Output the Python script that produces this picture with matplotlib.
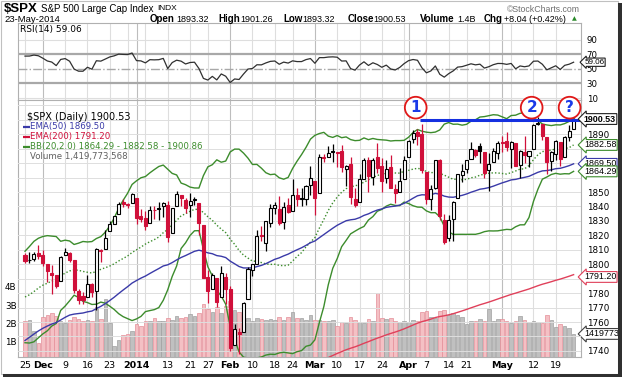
import numpy as np
import matplotlib.pyplot as plt
from matplotlib.patches import Rectangle

# ---- data ----
opens = [1806.33, 1802.87, 1803.48, 1808.01, 1806.55, 1800.10, 1794.15, 1792.82, 1788.36, 1806.21,
         1807.60, 1802.76, 1781.71, 1777.98, 1777.48, 1786.47, 1781.46, 1809.00, 1810.39, 1822.92,
         1828.02, 1834.96, 1842.97, 1841.47, 1842.61, 1845.86, 1833.21, 1832.31, 1828.71, 1837.90,
         1839.00, 1840.06, 1841.26, 1821.36, 1840.52, 1847.99, 1844.23, 1841.05, 1844.71, 1842.29,
         1826.96, 1791.03, 1783.00, 1790.15, 1777.17, 1790.88, 1782.68, 1743.82, 1753.38, 1752.99,
         1776.01, 1796.20, 1800.45, 1820.12, 1814.82, 1828.46, 1839.03, 1838.22, 1829.24, 1841.07,
         1836.78, 1847.66, 1845.79, 1844.90, 1855.12, 1857.68, 1849.23, 1874.05, 1874.18, 1878.52,
         1877.86, 1878.26, 1866.15, 1869.06, 1845.07, 1842.81, 1858.92, 1872.25, 1860.09, 1874.53,
         1867.67, 1859.48, 1867.09, 1852.11, 1850.07, 1859.16, 1873.96, 1886.61, 1891.43, 1890.25,
         1863.92, 1845.48, 1852.64, 1872.28, 1830.65, 1818.18, 1831.45, 1846.01, 1861.73, 1865.79,
         1872.57, 1879.32, 1881.97, 1877.72, 1865.00, 1870.78, 1877.10, 1884.39, 1885.30, 1879.45,
         1883.69, 1868.53, 1877.39, 1875.27, 1880.03, 1896.75, 1897.13, 1888.16, 1871.19, 1876.66,
         1884.88, 1874.05, 1888.19, 1893.32]
highs = [1808.10, 1808.42, 1808.27, 1813.55, 1810.02, 1800.10, 1799.80, 1792.82, 1806.04, 1811.52,
         1808.52, 1802.97, 1782.99, 1780.92, 1792.22, 1786.77, 1811.08, 1810.88, 1823.75, 1829.75,
         1833.32, 1842.84, 1844.89, 1842.47, 1849.44, 1845.86, 1838.24, 1837.16, 1840.10, 1840.02,
         1843.23, 1843.15, 1843.45, 1839.26, 1850.84, 1847.99, 1846.04, 1849.31, 1846.87, 1842.29,
         1826.96, 1795.98, 1793.87, 1790.15, 1798.77, 1793.88, 1784.83, 1758.73, 1755.79, 1774.06,
         1798.03, 1799.94, 1823.54, 1826.55, 1830.25, 1841.65, 1842.87, 1847.50, 1842.79, 1846.13,
         1858.71, 1852.91, 1852.65, 1854.53, 1867.92, 1857.68, 1876.23, 1876.53, 1881.94, 1883.57,
         1877.87, 1882.35, 1868.38, 1874.40, 1852.44, 1862.30, 1873.76, 1874.14, 1873.49, 1883.97,
         1873.34, 1871.87, 1875.92, 1855.55, 1866.63, 1875.18, 1885.84, 1893.17, 1893.80, 1897.28,
         1864.04, 1854.95, 1872.43, 1872.53, 1835.07, 1834.19, 1844.02, 1862.31, 1869.63, 1871.89,
         1884.89, 1879.75, 1884.06, 1877.72, 1877.01, 1880.60, 1885.20, 1888.59, 1891.33, 1885.51,
         1883.69, 1878.83, 1889.07, 1878.57, 1897.13, 1902.17, 1897.13, 1888.16, 1878.28, 1886.00,
         1884.88, 1888.80, 1896.33, 1901.26]
lows = [1800.58, 1800.77, 1802.59, 1803.98, 1798.60, 1787.85, 1779.09, 1783.38, 1788.36, 1806.21,
        1801.75, 1780.09, 1772.28, 1772.45, 1777.48, 1777.05, 1767.99, 1801.35, 1810.25, 1822.92,
        1828.02, 1834.96, 1839.81, 1838.77, 1842.41, 1827.74, 1829.13, 1823.73, 1828.71, 1831.40,
        1830.38, 1832.43, 1815.52, 1821.36, 1840.52, 1840.30, 1835.23, 1832.38, 1840.88, 1820.06,
        1790.29, 1772.88, 1783.00, 1770.45, 1777.17, 1772.26, 1739.66, 1743.82, 1737.92, 1752.99,
        1776.01, 1791.83, 1800.41, 1815.97, 1809.22, 1825.59, 1835.01, 1826.99, 1824.58, 1835.60,
        1836.78, 1840.19, 1840.66, 1841.13, 1847.67, 1834.44, 1849.23, 1871.11, 1874.18, 1870.56,
        1867.04, 1863.88, 1854.38, 1841.86, 1839.57, 1842.81, 1858.92, 1850.35, 1854.63, 1863.46,
        1849.69, 1855.96, 1852.56, 1842.11, 1850.07, 1859.16, 1873.96, 1883.79, 1882.65, 1863.26,
        1841.48, 1837.49, 1852.38, 1830.87, 1814.36, 1815.80, 1816.29, 1846.01, 1856.72, 1863.18,
        1872.57, 1873.91, 1870.24, 1859.70, 1850.61, 1870.78, 1872.69, 1878.04, 1878.50, 1866.77,
        1867.72, 1859.79, 1870.05, 1867.02, 1880.03, 1896.06, 1885.77, 1862.36, 1864.82, 1872.42,
        1868.14, 1874.05, 1885.39, 1893.32]
closes = [1802.48, 1802.75, 1807.23, 1805.81, 1800.90, 1795.15, 1792.81, 1785.03, 1805.09, 1808.37,
          1802.62, 1782.22, 1775.50, 1775.32, 1786.54, 1781.00, 1810.65, 1809.60, 1818.32, 1827.99,
          1833.32, 1842.02, 1841.40, 1841.07, 1848.36, 1831.98, 1831.37, 1826.77, 1837.88, 1837.49,
          1838.13, 1842.37, 1819.20, 1838.88, 1848.38, 1845.89, 1838.70, 1843.80, 1844.86, 1828.46,
          1790.29, 1781.56, 1792.50, 1774.20, 1794.19, 1782.59, 1741.89, 1755.20, 1751.64, 1773.43,
          1797.02, 1799.84, 1819.75, 1819.26, 1829.83, 1838.63, 1840.76, 1828.75, 1839.78, 1836.25,
          1847.61, 1845.12, 1845.16, 1854.29, 1859.45, 1845.73, 1873.91, 1873.81, 1877.03, 1878.04,
          1877.17, 1867.63, 1868.20, 1846.34, 1841.13, 1858.83, 1872.25, 1860.77, 1872.01, 1866.52,
          1857.44, 1865.62, 1852.56, 1849.04, 1857.62, 1872.34, 1885.52, 1890.90, 1888.77, 1865.09,
          1845.04, 1851.96, 1872.18, 1833.08, 1815.69, 1830.61, 1842.98, 1862.31, 1864.85, 1871.89,
          1879.55, 1875.39, 1878.61, 1863.40, 1869.43, 1878.33, 1883.95, 1883.68, 1881.14, 1884.66,
          1867.72, 1878.21, 1875.63, 1878.48, 1896.65, 1897.45, 1888.53, 1870.85, 1877.86, 1885.08,
          1872.83, 1888.03, 1892.49, 1900.53]
# volume in billions
volume = [2.10, 2.20, 1.60, 0.95, 2.35, 2.45, 2.55, 2.40, 2.10, 2.00,
          2.20, 2.35, 2.25, 2.15, 2.20, 2.10, 2.90, 2.25, 3.35, 2.00,
          0.75, 1.10, 1.35, 1.40, 1.60, 1.95, 1.85, 2.10, 2.15, 2.30,
          2.15, 2.10, 2.30, 2.20, 2.40, 2.30, 2.35, 2.50, 2.40, 2.55,
          3.05, 2.80, 2.60, 2.90, 2.55, 2.95, 3.20, 2.75, 2.60, 2.40,
          2.30, 2.15, 2.30, 2.25, 2.20, 2.25, 2.20, 2.35, 2.20, 2.35,
          2.60, 2.30, 2.30, 2.20, 2.45, 2.20, 2.20, 2.15, 2.10, 2.20,
          1.85, 2.05, 2.00, 2.35, 2.20, 2.05, 2.00, 2.25, 2.10, 3.65,
          2.30, 2.25, 2.30, 2.10, 2.05, 2.10, 2.05, 2.20, 2.15, 2.60,
          2.65, 2.35, 2.30, 2.70, 2.75, 2.45, 2.55, 2.45, 2.35, 1.95,
          2.10, 2.10, 2.25, 2.10, 2.80, 2.15, 2.25, 2.25, 2.10, 2.00,
          2.15, 2.40, 2.20, 2.05, 2.10, 2.05, 2.00, 2.45, 2.20, 1.80,
          1.95, 1.85, 1.75, 1.42]
# closes before the visible window (needed by BB(20) and RSI(14) at the left edge)
pre_close = [1710.14, 1698.06, 1721.54, 1733.15, 1744.50, 1744.66, 1754.67, 1746.38, 1752.07, 1759.77,
             1762.11, 1771.95, 1763.31, 1756.54, 1761.64, 1767.93, 1762.97, 1770.49, 1747.15, 1770.61,
             1771.89, 1767.69, 1782.00, 1790.62, 1798.18, 1791.53, 1787.87, 1781.37, 1795.85, 1804.76]
ema50_start = 1745.0
ema200_start = 1651.0
rsi_last = 59.06

tick_pos = [0, 4, 9, 14, 19, 25, 32, 37, 41, 46, 51, 56, 60, 65, 70, 75, 80, 86, 90, 95, 99, 107, 114, 119]
tick_lab = ['25', 'Dec', '9', '16', '23', '2014', '13', '21', '27', 'Feb', '10', '18', '24',
            'Mar', '10', '17', '24', 'Apr', '7', '14', '21', 'May', '12', '19']
week_lines = [0, 4, 9, 14, 19, 23, 25, 27, 32, 37, 41, 46, 51, 56, 60, 65, 70, 75, 80, 85, 86,
              90, 95, 99, 104, 107, 109, 114, 119]
month_lines = [4, 25, 46, 65, 86, 107]
price_ticks = [1740, 1760, 1770, 1780, 1800, 1810, 1820, 1830, 1840, 1850, 1890]

# ---- indicators ----
c = np.array(closes)
allc = np.array(pre_close + closes)
n = len(c)
x = np.arange(n)

def ema(vals, start, period):
    a = 2.0 / (period + 1)
    out = []
    e = start
    for v in vals:
        e = e + a * (v - e)
        out.append(e)
    return np.array(out)

ema50 = ema(c, ema50_start, 50)
ema200 = ema(c, ema200_start, 200)
k = len(pre_close)
bb_mid = np.array([allc[k + i - 19:k + i + 1].mean() for i in range(n)])
bb_sd = np.array([allc[k + i - 19:k + i + 1].std() for i in range(n)])
bb_up = bb_mid + 2 * bb_sd
bb_lo = bb_mid - 2 * bb_sd

d = np.diff(allc)
g = np.clip(d, 0, None)
l = np.clip(-d, 0, None)
ag = g[:14].mean()
al = l[:14].mean()
rsi_all = []
for i in range(14, len(d)):
    ag = (ag * 13 + g[i]) / 14
    al = (al * 13 + l[i]) / 14
    rsi_all.append(100 - 100 / (1 + ag / al))
rsi = np.array(rsi_all[-n:])

prev = np.array([pre_close[-1]] + closes[:-1])
down = c < prev

# ---- figure ----
W, H = 622, 377
fig = plt.figure(figsize=(W / 100, H / 100), dpi=100)
fig.patch.set_facecolor('white')

def fx(px):
    return px / W

def fy(py):
    return 1 - py / H

L, R = 18, 581
rsi_top, rsi_bot = 23, 100
main_top, main_bot = 100, 357
xlim = (-1.57, 124.66)

RED = '#d0103a'
BLUE = '#3a3aa8'
GREEN = '#3c8c2c'
ERED = '#e0405a'
GRID = '#dedede'
MGRID = '#bdbdbd'
BOXF = 'Liberation Sans'
BOXFS = 6.4

# RSI panel
ax_r = fig.add_axes([fx(L), fy(rsi_bot), fx(R - L), (rsi_bot - rsi_top) / H])
ax_r.set_xlim(xlim)
ax_r.set_ylim(7.3, 112.8)
for w in week_lines:
    ax_r.axvline(w, color=MGRID if w in month_lines else GRID, lw=0.8, zorder=0)
for lv in [10, 90]:
    ax_r.axhline(lv, color=GRID, lw=0.8, zorder=0)
ax_r.axhline(70, color='#a8a8a8', lw=1.6, zorder=1)
ax_r.axhline(30, color='#a8a8a8', lw=1.6, zorder=1)
ax_r.axhline(50, color='#a8a8a8', lw=1.0, ls='-.', zorder=1)
ax_r.plot(x, rsi, color='#303030', lw=0.9, zorder=3)
ax_r.set_xticks([])
ax_r.yaxis.tick_right()
ax_r.set_yticks([10, 30, 50, 70, 90])
ax_r.tick_params(axis='y', length=0, labelsize=6.2, pad=4)
for s in ax_r.spines.values():
    s.set_color('#b0b0b0')
    s.set_linewidth(0.8)
ax_r.text(0.004, 0.98, 'RSI(14) 59.06', transform=ax_r.transAxes, fontsize=6.5,
          family='DejaVu Sans', va='top', ha='left')
ax_r.text(1.006, rsi_last, '59.06', transform=ax_r.get_yaxis_transform(), fontsize=5.8,
          family=BOXF, va='center', ha='left', zorder=10, clip_on=False,
          bbox=dict(boxstyle='larrow,pad=0.08', fc='white', ec='#202020', lw=0.8))

# volume panel (underneath)
pos = [fx(L), fy(main_bot), fx(R - L), (main_bot - main_top) / H]
ax_v = fig.add_axes(pos)
ax_v.set_xlim(xlim)
ax_v.set_ylim(0.16, 14.2)
for w in week_lines:
    ax_v.axvline(w, color=MGRID if w in month_lines else GRID, lw=0.8, zorder=0)
vcol = ['#f4c0c4' if dn else '#c0c0c0' for dn in down]
vedge = ['#e48e98' if dn else '#a0a0a0' for dn in down]
ax_v.bar(x, volume, width=0.8, color=vcol, edgecolor=vedge, linewidth=0.5, zorder=2)
ax_v.set_yticks([1, 2, 3, 4])
ax_v.set_yticklabels(['1B', '2B', '3B', '4B'])
ax_v.tick_params(axis='y', length=0, labelsize=6.3, pad=1)
ax_v.set_xticks(tick_pos)
ax_v.set_xticklabels(tick_lab)
ax_v.tick_params(axis='x', length=0, labelsize=6.8, pad=3)
for t, lab in zip(ax_v.get_xticklabels(), tick_lab):
    if not lab.isdigit() or lab == '2014':
        t.set_fontweight('bold')
for s in ax_v.spines.values():
    s.set_color('#b0b0b0')
    s.set_linewidth(0.8)

# price panel (on top)
ax = fig.add_axes(pos, sharex=ax_v)
ax.patch.set_visible(False)
ax.set_ylim(1735.8, 1913.7)
for lv in range(1740, 1911, 10):
    ax.axhline(lv, color=GRID, lw=0.7, zorder=0)
ax.plot(x, bb_up, color=GREEN, lw=1.0, zorder=2)
ax.plot(x, bb_lo, color=GREEN, lw=1.0, zorder=2)
ax.plot(x, bb_mid, color=GREEN, lw=1.0, ls=(0, (1, 1.5)), zorder=2)
ax.plot(x, ema50, color=BLUE, lw=1.0, zorder=2)
ax.plot(x, ema200, color=ERED, lw=1.0, zorder=2)

o = np.array(opens)
hi = np.array(highs)
lo = np.array(lows)
col = np.where(down, RED, 'black')
ax.vlines(x, lo, hi, colors=col, lw=0.9, zorder=3)
hollow = c >= o
body_lo = np.minimum(o, c)
body_h = np.maximum(np.abs(c - o), 0.4)
fc = np.where(hollow, 'white', col)
ax.bar(x, body_h, bottom=body_lo, width=0.68, color=fc, edgecolor=col, linewidth=0.8, zorder=4)

ax.yaxis.tick_right()
ax.set_yticks(price_ticks)
ax.tick_params(axis='y', length=0, labelsize=6.3, pad=4)
ax.tick_params(axis='x', length=0, labelbottom=False)
for s in ax.spines.values():
    s.set_visible(False)

# resistance line and circled marks
ax.plot([88.6, 124.4], [1899.6, 1899.6], color='#1530e0', lw=2.2, zorder=6, solid_capstyle='butt')
for xi, lab in [(87.6, '1'), (113.6, '2'), (122.1, '?')]:
    ax.text(xi, 1908.4, lab, fontsize=11, fontweight='bold', color='#1a3ae8', ha='center',
            va='center', zorder=7,
            bbox=dict(boxstyle='circle,pad=0.22', fc='white', ec='#e01818', lw=1.3))

# value boxes on right edge
ytr = ax.get_yaxis_transform()
for val, txt, ec, bold in [(1900.53, '1900.53', '#202020', True),
                           (1882.58, '1882.58', GREEN, False),
                           (1869.50, '1869.50', BLUE, False),
                           (1864.29, '1864.29', GREEN, False),
                           (1791.20, '1791.20', ERED, False)]:
    ax.text(1.005, val, txt, transform=ytr, fontsize=BOXFS, family=BOXF, va='center', ha='left',
            clip_on=False, fontweight='bold' if bold else 'normal', zorder=10,
            bbox=dict(boxstyle='larrow,pad=0.1', fc='white', ec=ec, lw=0.8))
ax_v.text(1.005, volume[-1], '1419773', transform=ax_v.get_yaxis_transform(), fontsize=BOXFS,
          family=BOXF, va='center', ha='left', clip_on=False, zorder=10,
          bbox=dict(boxstyle='larrow,pad=0.1', fc='white', ec='#404040', lw=0.8))

# legend
leg_x = 0.008
ax.text(0.016, 0.935, '$SPX (Daily) 1900.53', transform=ax.transAxes, fontsize=7,
        family='DejaVu Sans', va='center', ha='left', zorder=8)
rows = [('EMA(50) 1869.50', BLUE), ('EMA(200) 1791.20', RED),
        ('BB(20,2.0) 1864.29 - 1882.58 - 1900.86', GREEN)]
for j, (txt, cc) in enumerate(rows):
    yy = 0.895 - j * 0.038
    ax.plot([leg_x + 0.001, leg_x + 0.013], [yy, yy], color=cc, lw=1.6, transform=ax.transAxes,
            zorder=8, solid_capstyle='butt')
    ax.text(leg_x + 0.014, yy, txt, transform=ax.transAxes, fontsize=6.2, color=cc,
            family='DejaVu Sans', va='center', ha='left', zorder=8)
ax.text(0.022, 0.895 - 3 * 0.038, 'Volume 1,419,773,568', transform=ax.transAxes, fontsize=6.2,
        color='#606060', family='DejaVu Sans', va='center', ha='left', zorder=8)

# header
fig.text(fx(4), fy(9), '$SPX', fontsize=9.5, fontweight='bold', family='Liberation Sans', va='center')
fig.text(fx(41), fy(9), 'S&P 500 Large Cap Index', fontsize=7, family='Liberation Sans', va='center')
fig.text(fx(157), fy(9), 'INDX', fontsize=6, family='Liberation Sans', va='center')
fig.text(fx(580), fy(9), '\u00a9StockCharts.com', fontsize=6.3, color='#707070',
         family='Liberation Sans', va='center', ha='right')
fig.text(fx(4), fy(19), '23-May-2014', fontsize=6.8, family='Liberation Sans', va='center')
hdr = [(150, 'Open', True), (176, '1893.32', False), (218, 'High', True), (240, '1901.26', False),
       (283, 'Low', True), (302, '1893.32', False), (348, 'Close', True), (373, '1900.53', False),
       (420, 'Volume', True), (457, '1.4B', False), (484, 'Chg', True), (504, '+8.04 (+0.42%)', False)]
for px, txt, b in hdr:
    fig.text(fx(px), fy(19), txt, fontsize=7 if b else 6.5, fontweight='bold' if b else 'normal',
             family='Liberation Sans', va='center')
fig.text(fx(574), fy(19), '\u25b2', fontsize=4.5, color='#2a8a2a', va='center', ha='center')

# outer frame with shadow
fig.patches.append(Rectangle((fx(1), fy(374)), fx(617), 373 / H, transform=fig.transFigure,
                             fill=False, ec='#c0c0c0', lw=0.8))
fig.patches.append(Rectangle((fx(618), 0), fx(4), fy(3), transform=fig.transFigure,
                             fc='#303030', ec='none'))
fig.patches.append(Rectangle((fx(3), 0), fx(619), 3 / H, transform=fig.transFigure,
                             fc='#303030', ec='none'))

fig.savefig('out.png', dpi=100)
